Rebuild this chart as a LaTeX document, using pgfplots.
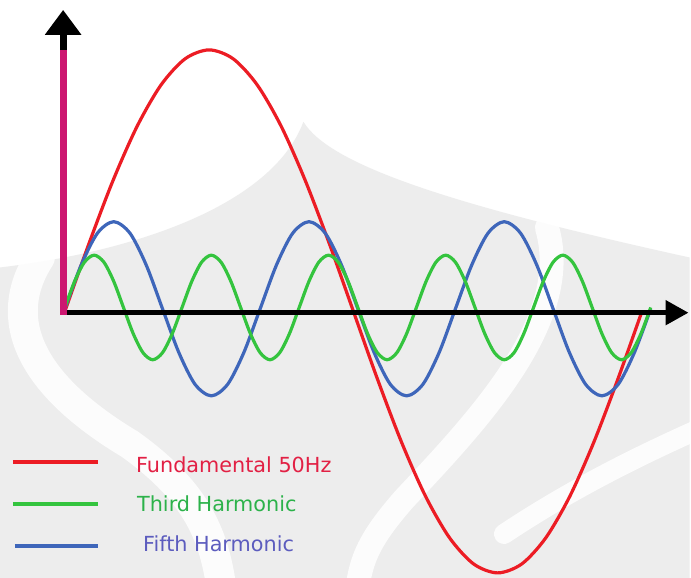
\documentclass[border=0pt]{standalone}
\usepackage{pgfplots}
\pgfplotsset{compat=1.18}
\usepackage{fontspec}
\setmainfont{DejaVu Sans}
\usetikzlibrary{arrows.meta}
\definecolor{cred}{RGB}{236,28,36}
\definecolor{cgreen}{RGB}{52,196,62}
\definecolor{cblue}{RGB}{62,102,186}
\definecolor{cmag}{RGB}{204,22,112}
\definecolor{tred}{RGB}{226,32,68}
\definecolor{tgreen}{RGB}{44,178,74}
\definecolor{tblue}{RGB}{92,92,190}
\definecolor{bggray}{RGB}{237,237,237}
\begin{document}
\begin{tikzpicture}
% background watermark (pixel coordinates)
\begin{scope}[x=0.5pt,y=-0.5pt,shift={(0,-579)}]
\path[use as bounding box] (0,0) rectangle (691,579);
\fill[white] (0,0) rectangle (691,579);
\fill[bggray] (0,268) .. controls (150,250) and (275,200) .. (304,122)
  .. controls (330,165) and (450,205) .. (691,258) -- (691,579) -- (0,579) -- cycle;
\draw[white, opacity=0.85, line width=15pt, line cap=round]
  (40,258) .. controls (0,320) and (30,385) .. (130,445) .. controls (200,495) and (215,540) .. (222,590);
\draw[white, opacity=0.85, line width=12pt, line cap=round]
  (548,228) .. controls (575,320) and (480,420) .. (405,500) .. controls (370,540) and (362,560) .. (358,590);
\draw[white, opacity=0.85, line width=10pt, line cap=round]
  (700,430) .. controls (610,470) and (550,505) .. (505,535);
\end{scope}
\begin{axis}[
  at={(0,0)}, anchor=south west,
  scale only axis, width=345.5pt, height=289.5pt,
  xmin=-2.2147, xmax=21.329, ymin=-1.0191, ymax=1.1908,
  hide axis, clip=false,
]
\addplot[cred, line width=1.6pt, smooth] coordinates {
(0,0) (0.821,0.2588) (1.642,0.5) (2.463,0.7071) (3.283,0.866) (4.104,0.9659)
(4.925,1) (5.746,0.9659) (6.567,0.866) (7.388,0.7071) (8.208,0.5) (9.029,0.2588)
(9.85,0) (10.671,-0.2588) (11.492,-0.5) (12.313,-0.7071) (13.133,-0.866) (13.954,-0.9659)
(14.775,-1) (15.596,-0.9659) (16.417,-0.866) (17.238,-0.7071) (18.058,-0.5) (18.879,-0.2588)
(19.7,0)};
\addplot[cblue, line width=1.6pt, smooth] coordinates {
(0,0.01) (0.556,0.177) (1.111,0.299) (1.667,0.343) (2.222,0.299) (2.778,0.177)
(3.333,0.01) (3.889,-0.157) (4.444,-0.279) (5,-0.323) (5.556,-0.279) (6.111,-0.157)
(6.667,0.01) (7.222,0.177) (7.778,0.299) (8.333,0.343) (8.889,0.299) (9.444,0.177)
(10,0.01) (10.556,-0.157) (11.111,-0.279) (11.667,-0.323) (12.222,-0.279) (12.778,-0.157)
(13.333,0.01) (13.889,0.177) (14.444,0.299) (15,0.343) (15.556,0.299) (16.111,0.177)
(16.667,0.01) (17.222,-0.157) (17.778,-0.279) (18.333,-0.323) (18.889,-0.279) (19.444,-0.157)
(20,0.01)};
\addplot[cgreen, line width=1.6pt, smooth] coordinates {
(0,0.015) (0.333,0.115) (0.667,0.188) (1,0.215) (1.333,0.188) (1.667,0.115)
(2,0.015) (2.333,-0.085) (2.667,-0.158) (3,-0.185) (3.333,-0.158) (3.667,-0.085)
(4,0.015) (4.333,0.115) (4.667,0.188) (5,0.215) (5.333,0.188) (5.667,0.115)
(6,0.015) (6.333,-0.085) (6.667,-0.158) (7,-0.185) (7.333,-0.158) (7.667,-0.085)
(8,0.015) (8.333,0.115) (8.667,0.188) (9,0.215) (9.333,0.188) (9.667,0.115)
(10,0.015) (10.333,-0.085) (10.667,-0.158) (11,-0.185) (11.333,-0.158) (11.667,-0.085)
(12,0.015) (12.333,0.115) (12.667,0.188) (13,0.215) (13.333,0.188) (13.667,0.115)
(14,0.015) (14.333,-0.085) (14.667,-0.158) (15,-0.185) (15.333,-0.158) (15.667,-0.085)
(16,0.015) (16.333,0.115) (16.667,0.188) (17,0.215) (17.333,0.188) (17.667,0.115)
(18,0.015) (18.333,-0.085) (18.667,-0.158) (19,-0.185) (19.333,-0.158) (19.667,-0.085)
(20,0.015)};
% axes
\draw[black, line width=2.5pt, -{Triangle[length=11.5pt,width=12pt]}] (axis cs:-0.05,-0.005) -- (axis cs:21.29,-0.005);
\draw[cmag, line width=3.6pt] (axis cs:-0.06,-0.012) -- (axis cs:-0.06,1.01);
\draw[black, line width=3.6pt, -{Triangle[length=12.5pt,width=17.5pt]}] (axis cs:-0.06,1.0) -- (axis cs:-0.06,1.153);
\end{axis}
% legend (pixel coordinates)
\begin{scope}[x=0.5pt,y=-0.5pt,shift={(0,-579)}]
\draw[cred, line width=2.4pt] (13,463) -- (98,463);
\draw[cgreen, line width=2.2pt] (13,505) -- (98,505);
\draw[cblue, line width=2pt] (15,547) -- (98,547);
\node[anchor=base west, inner sep=0pt, text=tred, font=\fontsize{10.4}{12}\selectfont] at (136,473) {Fundamental 50Hz};
\node[anchor=base west, inner sep=0pt, text=tgreen, font=\fontsize{10.4}{12}\selectfont] at (137,512) {Third Harmonic};
\node[anchor=base west, inner sep=0pt, text=tblue, font=\fontsize{10.4}{12}\selectfont] at (143,553) {Fifth Harmonic};
\end{scope}
\end{tikzpicture}
\end{document}
